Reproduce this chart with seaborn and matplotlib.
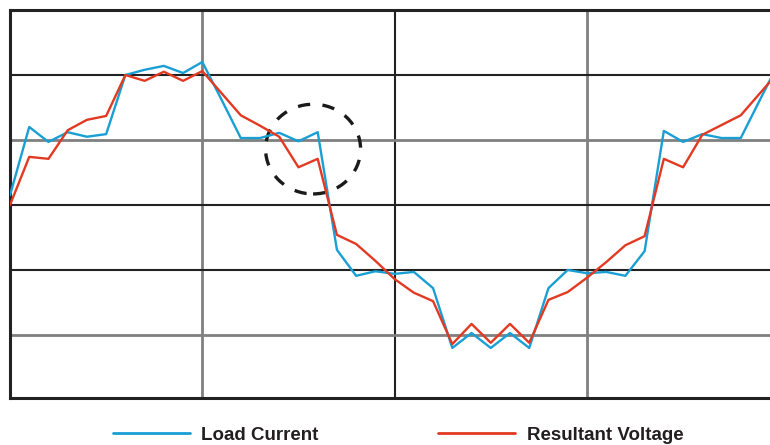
import numpy as np
import pandas as pd
import matplotlib
matplotlib.use("Agg")
import matplotlib.pyplot as plt
import seaborn as sns
from matplotlib.patches import Ellipse

# sample index along the waveform (10 samples per grid column)
steps = list(range(41))

# values in grid divisions (0 = centre line)
load_current = [0.15, 1.20, 0.97, 1.12, 1.05, 1.09, 2.00, 2.08, 2.14, 2.03,
                2.20, 1.62, 1.03, 1.03, 1.11, 0.98, 1.12, -0.69, -1.09, -1.02,
                -1.06, -1.03, -1.28, -2.20, -1.97, -2.20, -1.97, -2.20, -1.28, -1.00,
                -1.05, -1.03, -1.09, -0.71, 1.14, 0.97, 1.09, 1.03, 1.03, 1.62,
                2.20]
resultant_voltage = [0.00, 0.74, 0.71, 1.15, 1.31, 1.37, 2.00, 1.91, 2.05, 1.91,
                     2.06, 1.72, 1.38, 1.22, 1.05, 0.58, 0.71, -0.46, -0.60, -0.86,
                     -1.14, -1.35, -1.48, -2.14, -1.83, -2.12, -1.83, -2.12, -1.46, -1.34,
                     -1.12, -0.88, -0.62, -0.48, 0.71, 0.58, 1.08, 1.23, 1.38, 1.72,
                     2.06]

series_names = ["Load Current", "Resultant Voltage"]
series_colors = ["#1a9fd4", "#e23a22"]

df = pd.concat([
    pd.DataFrame({"step": steps, "value": load_current, "series": series_names[0]}),
    pd.DataFrame({"step": steps, "value": resultant_voltage, "series": series_names[1]}),
])

sns.set_style("white")
plt.rcParams["font.family"] = ["Liberation Sans", "DejaVu Sans"]

fig = plt.figure(figsize=(7.7, 4.45), dpi=100)
ax = fig.add_axes([10 / 770, 47 / 445, 760 / 770, 388 / 445])

# scope-style grid: alternating dark and grey lines
dark = "#222222"
grey = "#808080"
for x, c in [(10, grey), (20, dark), (30, grey)]:
    ax.axvline(x, color=c, lw=1.5 if c == dark else 2.0, zorder=1)
for y, c in [(2, dark), (1, grey), (0, dark), (-1, dark), (-2, grey)]:
    ax.axhline(y, color=c, lw=1.5 if c == dark else 2.0, zorder=1)

# highlight of the distorted region
ax.add_patch(Ellipse((15.76, 0.86), 4.94, 1.38, fill=False, edgecolor="#1a1a1a",
                     lw=2.4, linestyle=(0, (3.7, 3.7)), zorder=2))

sns.lineplot(data=df, x="step", y="value", hue="series", hue_order=series_names,
             palette=series_colors, lw=1.7, ax=ax, zorder=3, legend=True)

ax.set_xlim(0, 39.52)
ax.set_ylim(-2.97, 3.0)
ax.set_xticks([])
ax.set_yticks([])
ax.set_xlabel("")
ax.set_ylabel("")

for side in ["left", "top", "bottom"]:
    ax.spines[side].set_color(dark)
    ax.spines[side].set_linewidth(2.2)
ax.spines["right"].set_visible(False)

handles, labels = ax.get_legend_handles_labels()
ax.get_legend().remove()
fig.legend(handles, labels, loc="center", bbox_to_anchor=(0.517, 0.022), ncol=2,
           frameon=False, handlelength=4.1, handletextpad=0.6, columnspacing=6.4,
           prop={"weight": "bold", "size": 13.5})
for t in fig.legends[0].get_texts():
    t.set_color("#231f20")
for h in fig.legends[0].get_lines():
    h.set_linewidth(2.0)

fig.savefig("out.png", dpi=100)
